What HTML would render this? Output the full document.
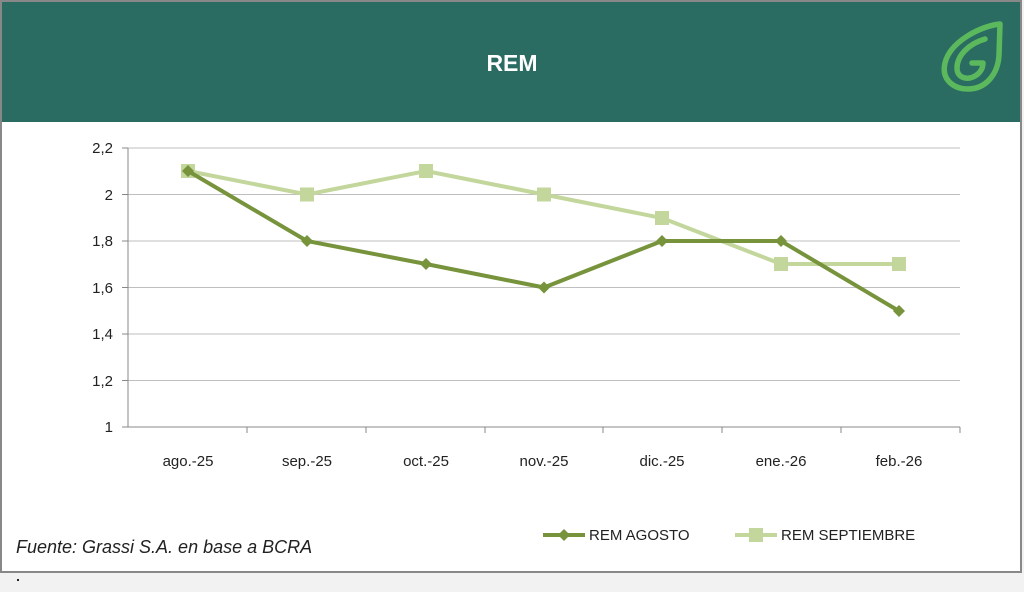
<!DOCTYPE html>
<html><head><meta charset="utf-8"><style>
body{margin:0;width:1024px;height:587px;background:#f2f2f2;overflow:hidden;font-family:"Liberation Sans",sans-serif}
</style></head><body>
<svg width="1024" height="587" xmlns="http://www.w3.org/2000/svg" font-family="Liberation Sans, sans-serif">
<rect x="1" y="1" width="1020" height="571" fill="#fff" stroke="#888" stroke-width="2"/>
<rect x="2" y="2" width="1018" height="120" fill="#2a6b62"/>
<text x="512" y="71" text-anchor="middle" fill="#fff" font-size="23" font-weight="bold">REM</text>
<g fill="none" stroke="#5cb85c" stroke-width="5.5" stroke-linejoin="round" stroke-linecap="round">
<path d="M1000,24 C980,26 950,42 945,63 C941,80 954,89 968,89 C986,89 998,74 999,55 Z"/>
<path d="M985,39 C968,44 957,56 957,68 C957,76 963,79 970,78 C978,76 983,70 983,63 L972,63"/>
</g>
<g stroke="#bfbfbf" stroke-width="1">
<line x1="128" y1="148" x2="960" y2="148"/><line x1="128" y1="194.5" x2="960" y2="194.5"/>
<line x1="128" y1="241" x2="960" y2="241"/><line x1="128" y1="287.5" x2="960" y2="287.5"/>
<line x1="128" y1="334" x2="960" y2="334"/><line x1="128" y1="380.5" x2="960" y2="380.5"/>
</g>
<g stroke="#888" stroke-width="1">
<line x1="128" y1="148" x2="128" y2="427"/><line x1="128" y1="427" x2="960" y2="427"/>
<line x1="122" y1="148" x2="128" y2="148"/><line x1="122" y1="194.5" x2="128" y2="194.5"/><line x1="122" y1="241" x2="128" y2="241"/><line x1="122" y1="287.5" x2="128" y2="287.5"/><line x1="122" y1="334" x2="128" y2="334"/><line x1="122" y1="380.5" x2="128" y2="380.5"/><line x1="122" y1="427" x2="128" y2="427"/>
<line x1="247" y1="427" x2="247" y2="433"/><line x1="366" y1="427" x2="366" y2="433"/><line x1="485" y1="427" x2="485" y2="433"/><line x1="603" y1="427" x2="603" y2="433"/><line x1="722" y1="427" x2="722" y2="433"/><line x1="841" y1="427" x2="841" y2="433"/><line x1="960" y1="427" x2="960" y2="433"/>
</g>
<g font-size="15" fill="#222" text-anchor="end">
<text x="113" y="153">2,2</text><text x="113" y="200">2</text><text x="113" y="246">1,8</text><text x="113" y="293">1,6</text><text x="113" y="339">1,4</text><text x="113" y="386">1,2</text><text x="113" y="432">1</text>
</g>
<g font-size="15" fill="#222" text-anchor="middle">
<text x="188" y="466">ago.-25</text><text x="307" y="466">sep.-25</text><text x="426" y="466">oct.-25</text><text x="544" y="466">nov.-25</text><text x="662" y="466">dic.-25</text><text x="781" y="466">ene.-26</text><text x="899" y="466">feb.-26</text>
</g>
<polyline points="188,171 307,194.5 426,171 544,194.5 662,218 781,264 899,264" fill="none" stroke="#c3d69b" stroke-width="4"/>
<g fill="#c3d69b">
<rect x="181" y="164" width="14" height="14"/><rect x="300" y="187.5" width="14" height="14"/><rect x="419" y="164" width="14" height="14"/><rect x="537" y="187.5" width="14" height="14"/><rect x="655" y="211" width="14" height="14"/><rect x="774" y="257" width="14" height="14"/><rect x="892" y="257" width="14" height="14"/>
</g>
<polyline points="188,171 307,241 426,264 544,287.5 662,241 781,241 899,311" fill="none" stroke="#77933c" stroke-width="4"/>
<g fill="#77933c">
<path d="M188,165l6,6-6,6-6-6z"/><path d="M307,235l6,6-6,6-6-6z"/><path d="M426,258l6,6-6,6-6-6z"/><path d="M544,281.5l6,6-6,6-6-6z"/><path d="M662,235l6,6-6,6-6-6z"/><path d="M781,235l6,6-6,6-6-6z"/><path d="M899,305l6,6-6,6-6-6z"/>
</g>
<line x1="543" y1="535" x2="585" y2="535" stroke="#77933c" stroke-width="4"/><path d="M564,529l6,6-6,6-6-6z" fill="#77933c"/>
<text x="589" y="540" font-size="15" fill="#222">REM AGOSTO</text>
<line x1="735" y1="535" x2="777" y2="535" stroke="#c3d69b" stroke-width="4"/><rect x="749" y="528" width="14" height="14" fill="#c3d69b"/>
<text x="781" y="540" font-size="15" fill="#222">REM SEPTIEMBRE</text>
<text x="16" y="553" font-size="18" font-style="italic" fill="#222">Fuente: Grassi S.A. en base a BCRA</text>
<rect x="17" y="579" width="2" height="2" fill="#222"/>
</svg>
</body></html>
